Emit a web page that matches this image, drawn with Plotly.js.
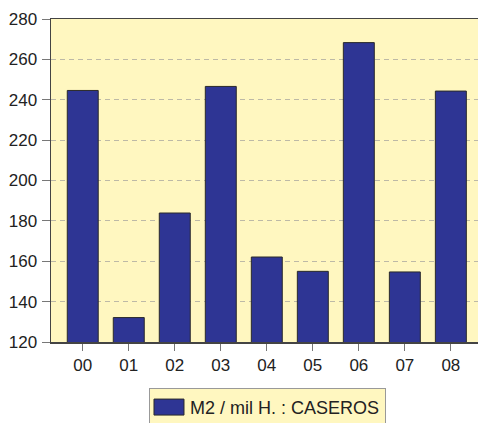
<!DOCTYPE html>
<html>
<head>
<meta charset="utf-8">
<script src="https://cdn.plot.ly/plotly-3.0.1.min.js"></script>
<style>html,body{margin:0;padding:0;background:#fff;}#chart{width:478px;height:423px;}</style>
</head>
<body>
<div id="chart"></div>
<script>
const categories = ["00","01","02","03","04","05","06","07","08"];
const values = [244.6, 132.1, 183.9, 246.6, 162.1, 155.0, 268.3, 154.7, 244.3];
const seriesName = "M2 / mil H. : CASEROS";
const yTicks = [120,140,160,180,200,220,240,260,280];

const trace = {
  type: "bar",
  x: categories,
  y: values,
  name: seriesName,
  showlegend: true,
  marker: {color: "#2e3594", line: {color: "#2a2a2a", width: 1}}
};

const layout = {
  width: 478, height: 423,
  margin: {l: 51, r: 0, t: 19, b: 81, autoexpand: false},
  paper_bgcolor: "#ffffff",
  plot_bgcolor: "#fff7c0",
  font: {family: "Liberation Sans, Arial, sans-serif", size: 17, color: "#222"},
  bargap: 0.327,
  xaxis: {
    type: "category",
    range: [-0.69, 8.59],
    showline: true, linecolor: "#444", linewidth: 1.5, mirror: true,
    ticks: "outside", ticklen: 7, tickcolor: "#777",
    showgrid: false,
    tickfont: {size: 17}
  },
  yaxis: {
    range: [120, 280],
    tickvals: yTicks,
    showline: true, linecolor: "#444", linewidth: 1.5,
    ticks: "outside", ticklen: 8, tickcolor: "#777",
    ticklabelstandoff: 1,
    showgrid: true, gridcolor: "#bdb9a6", griddash: "5px,4px", gridwidth: 1,
    zeroline: false,
    tickfont: {size: 17}
  },
  showlegend: true,
  legend: {
    orientation: "h",
    x: 0.507, xanchor: "center",
    y: -0.142, yanchor: "top",
    bgcolor: "#fff7c0",
    bordercolor: "#999",
    borderwidth: 1,
    font: {size: 18, color: "#222"}
  }
};

Plotly.newPlot("chart", [trace], layout, {displayModeBar: false, staticPlot: true}).then(function(gd){
  // widen the legend swatch to the reference's rectangular shape
  gd.querySelectorAll(".legend .legendpoints path").forEach(function(p){
    p.setAttribute("d", "M14,8H-16V-8H14Z");
  });
});
</script>
</body>
</html>
